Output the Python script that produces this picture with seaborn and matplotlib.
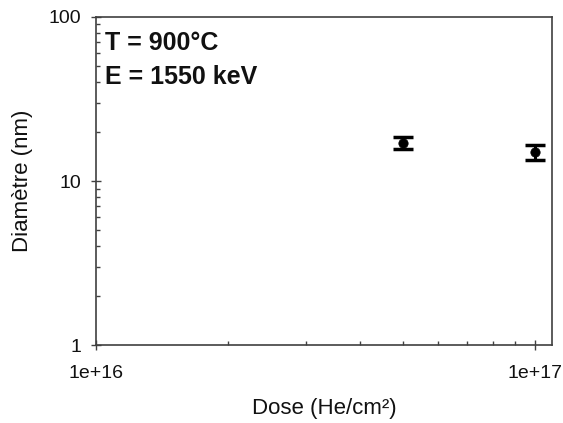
import numpy as np
import pandas as pd
import matplotlib
matplotlib.use("Agg")
import matplotlib.pyplot as plt
import seaborn as sns
from matplotlib.ticker import FixedLocator, LogLocator, NullFormatter

# data
dose = [5e16, 1e17]
diameter = [17.1, 15.0]
diameter_err = [1.4, 1.5]

xticks = [1e16, 1e17]
xtick_labels = ['1e+16', '1e+17']
yticks = [1, 10, 100]
ytick_labels = ['1', '10', '100']

sns.set_theme(style='white')
plt.rcParams['font.family'] = ['Liberation Sans', 'DejaVu Sans']

df = pd.DataFrame({'Dose': dose, 'Diametre': diameter, 'err': diameter_err})

fig, ax = plt.subplots(figsize=(5.63, 4.23), dpi=100)
fig.subplots_adjust(left=0.1705, right=0.980, bottom=0.184, top=0.960)

ax.errorbar(df['Dose'], df['Diametre'], yerr=df['err'], fmt='none',
            ecolor='black', elinewidth=2.2, capsize=7.5, capthick=2.5, zorder=2)
sns.scatterplot(data=df, x='Dose', y='Diametre', ax=ax, color='black',
                s=45, edgecolor='black', zorder=3, legend=False)

ax.set_xscale('log')
ax.set_yscale('log')
ax.set_xlim(1e16, 1.09e17)
ax.set_ylim(1, 100)

ax.xaxis.set_major_locator(FixedLocator(xticks))
ax.set_xticklabels(xtick_labels)
ax.yaxis.set_major_locator(FixedLocator(yticks))
ax.set_yticklabels(ytick_labels)
ax.xaxis.set_minor_locator(LogLocator(base=10, subs=np.arange(2, 10)))
ax.yaxis.set_minor_locator(LogLocator(base=10, subs=np.arange(2, 10)))
ax.xaxis.set_minor_formatter(NullFormatter())
ax.yaxis.set_minor_formatter(NullFormatter())

ax.tick_params(which='major', direction='inout', length=7, width=1.0,
               color='#404040', labelsize=14, labelcolor='#111111',
               bottom=True, left=True)
ax.tick_params(axis='x', which='major', pad=11)
ax.tick_params(axis='y', which='major', pad=7)
ax.tick_params(which='minor', direction='in', length=3, width=1.0,
               color='#404040', bottom=True, left=True)

for sp in ax.spines.values():
    sp.set_color('#404040')
    sp.set_linewidth(1.2)

ax.set_xlabel('Dose (He/cm²)', fontsize=16, color='#111111')
ax.set_ylabel('Diamètre (nm)', fontsize=16, color='#111111')
ax.xaxis.set_label_coords(0.5, -0.162)
ax.yaxis.set_label_coords(-0.138, 0.5)

ax.text(0.02, 0.921, 'T = 900°C', transform=ax.transAxes, fontsize=18,
        fontweight='bold', va='center', ha='left', color='#111111')
ax.text(0.02, 0.817, 'E = 1550 keV', transform=ax.transAxes, fontsize=18,
        fontweight='bold', va='center', ha='left', color='#111111')

plt.savefig('out.png', dpi=100)
